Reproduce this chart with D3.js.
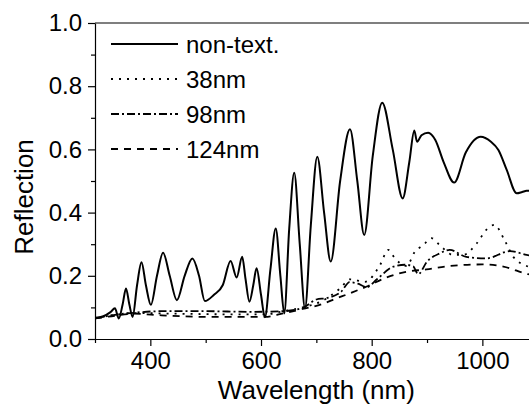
<!DOCTYPE html>
<html>
<head>
<meta charset="utf-8">
<script src="https://cdn.jsdelivr.net/npm/d3@7"></script>
<style>
  body { margin: 0; background: #fff; }
  text { font-family: "Liberation Sans", Arial, sans-serif; fill: #000; }
</style>
</head>
<body>
<div id="chart"></div>
<script>
// reflection spectra, values

// non-textured sample
const nonTextWl = [300, 315, 328, 336, 343, 350, 356, 362, 368, 376, 384, 392, 401, 412, 423, 435, 448, 462, 476, 488,
  498.5, 515, 531, 545, 556, 566, 572, 579, 586, 592, 600, 607, 617, 626.6, 635, 642, 651, 660, 670, 679.5,
  690, 701.7, 714, 726, 743, 760.8, 774, 786.5, 802, 819, 838, 856, 868, 877, 882, 890, 902, 915, 930, 949,
  970, 997, 1015, 1029, 1044, 1062, 1072, 1080, 1100];
const nonTextR = [0.067, 0.072, 0.085, 0.097, 0.065, 0.11, 0.16, 0.11, 0.07, 0.17, 0.243, 0.17, 0.108, 0.2, 0.273, 0.2, 0.123, 0.2, 0.255, 0.2,
  0.12, 0.14, 0.171, 0.247, 0.195, 0.26, 0.19, 0.118, 0.17, 0.224, 0.14, 0.069, 0.22, 0.35, 0.2, 0.081, 0.35, 0.526, 0.3, 0.097,
  0.36, 0.577, 0.4, 0.245, 0.5, 0.664, 0.5, 0.329, 0.58, 0.748, 0.6, 0.445, 0.56, 0.66, 0.624, 0.645, 0.653, 0.63, 0.56, 0.495,
  0.59, 0.64, 0.625, 0.598, 0.535, 0.461, 0.465, 0.469, 0.47];

// 38nm
const t38Wl = [300, 330, 370, 450, 550, 607, 640, 680, 710, 743, 761, 788, 815, 830, 842, 863, 878, 893, 908, 923,
  947, 965, 990, 1008, 1022, 1040, 1056, 1083, 1100];
const t38R = [0.065, 0.075, 0.082, 0.08, 0.078, 0.078, 0.088, 0.102, 0.12, 0.16, 0.189, 0.181, 0.234, 0.282, 0.255, 0.231, 0.276, 0.297, 0.319, 0.297,
  0.266, 0.266, 0.303, 0.347, 0.361, 0.313, 0.26, 0.229, 0.22];

// 98nm
const t98Wl = [300, 330, 370, 420, 500, 580, 640, 676, 700, 720, 745, 760, 775, 791, 810, 839, 860, 875, 884, 900,
  923, 941, 971, 1007, 1050, 1080, 1100];
const t98R = [0.065, 0.075, 0.083, 0.088, 0.088, 0.086, 0.088, 0.099, 0.125, 0.13, 0.15, 0.18, 0.175, 0.164, 0.19, 0.229, 0.235, 0.23, 0.205, 0.245,
  0.271, 0.282, 0.26, 0.255, 0.278, 0.266, 0.26];

// 124nm
const t124Wl = [300, 330, 370, 420, 500, 580, 607, 640, 680, 706, 737, 761, 791, 827, 863, 899, 941, 1001, 1038, 1083, 1100];
const t124R = [0.065, 0.072, 0.08, 0.075, 0.07, 0.07, 0.07, 0.081, 0.097, 0.108, 0.129, 0.145, 0.166, 0.195, 0.213, 0.22, 0.231, 0.236, 0.229, 0.205, 0.2];

const seriesNames = ["non-text.", "38nm", "98nm", "124nm"];
const xMajor = [400, 600, 800, 1000];
const xMinor = [300, 500, 700, 900, 1100];
const yMajor = [0, 0.2, 0.4, 0.6, 0.8, 1.0];
const yMinor = [0.1, 0.3, 0.5, 0.7, 0.9];

const width = 529,
      height = 405,
      margin = ({ top: 23, left: 95, bottom: 66 });

const plotRight = 537.7; // axis runs past the window edge

const dashes = ["none", "2,6", "8,3,2,3", "7,6"];

const series = [
  nonTextWl.map((w, i) => ({ w: w, r: nonTextR[i] })),
  t38Wl.map((w, i) => ({ w: w, r: t38R[i] })),
  t98Wl.map((w, i) => ({ w: w, r: t98R[i] })),
  t124Wl.map((w, i) => ({ w: w, r: t124R[i] }))
];

let svg = d3.select("#chart")
  .append("svg")
  .attr("width", width)
  .attr("height", height);

let x = d3.scaleLinear()
  .domain([300, 1100])
  .range([margin.left, plotRight]);

let y = d3.scaleLinear()
  .domain([0, 1])
  .range([height - margin.bottom, margin.top]);

svg.append("clipPath").attr("id", "clip")
  .append("rect")
  .attr("x", margin.left).attr("y", margin.top)
  .attr("width", plotRight - margin.left)
  .attr("height", y(0) - margin.top);

let line = d3.line()
  .x(d => x(d.w))
  .y(d => y(d.r))
  .curve(d3.curveMonotoneX);

svg.append("g")
  .attr("clip-path", "url(#clip)")
  .selectAll("path")
  .data(series)
  .join("path")
  .attr("d", line)
  .attr("fill", "none")
  .attr("stroke", "#000")
  .attr("stroke-width", (d, i) => i == 0 ? 2 : 1.8)
  .attr("stroke-dasharray", (d, i) => dashes[i]);

// axes
function styleAxis(g) {
  g.select(".domain").attr("stroke", "#000").attr("stroke-width", 1.2);
  g.selectAll(".tick line").attr("stroke", "#000").attr("stroke-width", 1.2);
  g.selectAll("text").style("font-size", "24px").attr("fill", "#000");
}

svg.append("g")
  .attr("transform", `translate(0,${y(0)})`)
  .call(d3.axisBottom(x).tickValues(xMinor).tickSize(4).tickFormat(""))
  .call(g => g.select(".domain").remove())
  .call(styleAxis);

svg.append("g")
  .attr("transform", `translate(0,${y(0)})`)
  .call(d3.axisBottom(x).tickValues(xMajor).tickSize(7).tickSizeOuter(0).tickPadding(6).tickFormat(d3.format("d")))
  .call(styleAxis);

svg.append("g")
  .attr("transform", `translate(${margin.left},0)`)
  .call(d3.axisLeft(y).tickValues(yMinor).tickSize(4).tickFormat(""))
  .call(g => g.select(".domain").remove())
  .call(styleAxis);

svg.append("g")
  .attr("transform", `translate(${margin.left},0)`)
  .call(d3.axisLeft(y).tickValues(yMajor).tickSize(7).tickSizeOuter(0).tickPadding(6).tickFormat(d3.format(".1f")))
  .call(styleAxis);

// top border
svg.append("line")
  .attr("x1", margin.left).attr("x2", plotRight)
  .attr("y1", y(1)).attr("y2", y(1))
  .attr("stroke", "#000")
  .attr("stroke-width", 1.2);

// axis titles
svg.append("text")
  .attr("x", (margin.left + plotRight) / 2)
  .attr("y", 399)
  .attr("text-anchor", "middle")
  .style("font-size", "26px")
  .text("Wavelength (nm)");

svg.append("text")
  .attr("transform", "translate(33,197) rotate(-90)")
  .attr("text-anchor", "middle")
  .style("font-size", "26px")
  .text("Reflection");

// legend
let legend = svg.selectAll(".legend")
  .data(seriesNames)
  .join("g")
  .attr("class", "legend")
  .attr("transform", (d, i) => `translate(0,${44 + i * 35})`);

legend.append("line")
  .attr("x1", 111).attr("x2", 178)
  .attr("stroke", "#000")
  .attr("stroke-width", (d, i) => i == 0 ? 2 : 1.8)
  .attr("stroke-dasharray", (d, i) => dashes[i]);

legend.append("text")
  .attr("x", 186)
  .attr("y", 9)
  .style("font-size", "24px")
  .text(d => d);
</script>
</body>
</html>
